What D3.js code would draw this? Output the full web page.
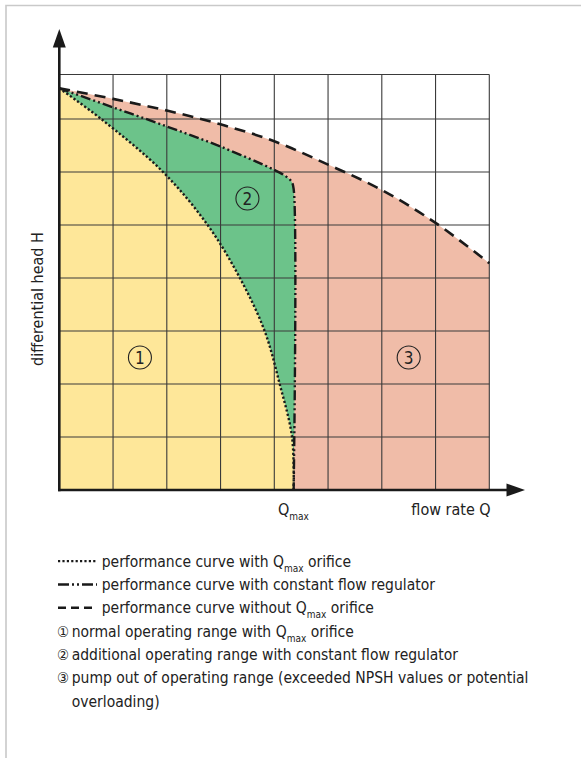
<!DOCTYPE html>
<html>
<head>
<meta charset="utf-8">
<script src="https://cdn.jsdelivr.net/npm/d3@7"></script>
<style>
  body { margin: 0; background: #fff; }
  svg text { font-family: "Liberation Sans Narrow", "DejaVu Sans Condensed", "Roboto", sans-serif; fill: #222; }
</style>
</head>
<body>
<svg width="581" height="758"></svg>
<script>
// grid ticks (flow rate Q / differential head H, arbitrary units)
const qTicks = [0, 1, 2, 3, 4, 5, 6, 7, 8];
const hTicks = [0, 1, 2, 3, 4, 5, 6, 7, 7.84];

// performance curve without Qmax orifice (dashed)
const qFree = [0, 1, 2, 3, 4, 5, 6, 7, 8];
const hFree = [7.58, 7.38, 7.16, 6.9, 6.58, 6.14, 5.66, 5.04, 4.28];

// performance curve with constant flow regulator (dash-dot)
const qReg = [0, 1, 2, 3, 4, 4.2, 4.32, 4.36, 4.36];
const hReg = [7.58, 7.22, 6.86, 6.48, 6.04, 5.93, 5.82, 5.68, 0];

// performance curve with Qmax orifice (dotted)
const qOrf = [0, 0.78, 1.93, 2.76, 3.36, 3.82, 4.1, 4.33, 4.36];
const hOrf = [7.58, 7, 6, 5, 4, 3, 2, 1, 0];

// range markers
const zoneNames = ['1', '2', '3'];
const zoneQ = [1.5, 3.5, 6.5];
const zoneH = [2.5, 5.5, 2.5];

const legendLines = [
  ['dot', 'performance curve with ', 'Q', 'max', ' orifice'],
  ['dashdot', 'performance curve with constant flow regulator'],
  ['dash', 'performance curve without ', 'Q', 'max', ' orifice'],
  ['\u2460', 'normal operating range with ', 'Q', 'max', ' orifice'],
  ['\u2461', 'additional operating range with constant flow regulator'],
  ['\u2462', 'pump out of operating range (exceeded NPSH values or potential'],
  ['', 'overloading)']
];

const svg = d3.select('svg');

const x = d3.scaleLinear().domain([0, 8]).range([59.3, 489.3]);
const y = d3.scaleLinear().domain([0, 7.84]).range([490, 74.5]);

const zip = (a, b) => a.map((v, i) => [v, b[i]]);
const line = d3.line().x(d => x(d[0])).y(d => y(d[1])).curve(d3.curveCatmullRom.alpha(0.5));

function area(pts) {
  const last = pts[pts.length - 1];
  return line(pts) + 'L' + x(last[0]) + ',' + y(0) + 'L' + x(0) + ',' + y(0) + 'Z';
}

// frame
svg.append('path').attr('d', 'M6,758V5.5H581').attr('fill', 'none')
  .attr('stroke', '#c9c9c9').attr('stroke-width', 1.6);

// fills
const freePts = zip(qFree, hFree), regPts = zip(qReg, hReg), orfPts = zip(qOrf, hOrf);
svg.append('path').attr('d', area(freePts)).attr('fill', '#f0bca8');
svg.append('path').attr('d', area(regPts)).attr('fill', '#6cc38a');
svg.append('path').attr('d', area(orfPts)).attr('fill', '#fee799');

// grid
const grid = svg.append('g').attr('stroke', '#3a3a3a').attr('stroke-width', 1.1);
grid.selectAll('.v').data(qTicks).join('line')
  .attr('x1', d => x(d)).attr('x2', d => x(d)).attr('y1', y(0)).attr('y2', y(7.84));
grid.selectAll('.h').data(hTicks).join('line')
  .attr('x1', x(0)).attr('x2', x(8)).attr('y1', d => y(d)).attr('y2', d => y(d));

// curves
const curves = svg.append('g').attr('fill', 'none').attr('stroke', '#1a1a1a');
curves.append('path').attr('d', line(freePts)).attr('stroke-width', 2.6).attr('stroke-dasharray', '11 7');
curves.append('path').attr('d', line(regPts)).attr('stroke-width', 2.4).attr('stroke-dasharray', '10 3 2 3 2 3');
curves.append('path').attr('d', line(orfPts)).attr('stroke-width', 2.4).attr('stroke-dasharray', '2.2 2.2');

// axes with arrows
const ax = svg.append('g');
ax.append('line').attr('x1', x(0)).attr('x2', x(0)).attr('y1', y(0) + 1.2).attr('y2', 44)
  .attr('stroke', '#1a1a1a').attr('stroke-width', 2.6);
ax.append('line').attr('x1', x(0) - 1.2).attr('x2', 510).attr('y1', y(0)).attr('y2', y(0))
  .attr('stroke', '#1a1a1a').attr('stroke-width', 2.6);
ax.append('path').attr('d', `M${x(0)},29 L${x(0) + 6.5},47.5 L${x(0) - 6.5},47.5 Z`).attr('fill', '#1a1a1a');
ax.append('path').attr('d', `M525,${y(0)} L506.5,${y(0) - 6.5} L506.5,${y(0) + 6.5} Z`).attr('fill', '#1a1a1a');

// zone markers
const zones = svg.append('g');
zoneNames.forEach((n, i) => {
  zones.append('circle').attr('cx', x(zoneQ[i])).attr('cy', y(zoneH[i])).attr('r', 11.5)
    .attr('fill', 'none').attr('stroke', '#222').attr('stroke-width', 1.1);
  zones.append('text').attr('x', x(zoneQ[i])).attr('y', y(zoneH[i]) + 6)
    .attr('text-anchor', 'middle').attr('font-size', 17).text(n);
});

// axis labels
svg.append('text').attr('transform', 'translate(43,299) rotate(-90)')
  .attr('text-anchor', 'middle').attr('font-size', 16).text('differential head H');
svg.append('text').attr('x', 490.7).attr('y', 515).attr('text-anchor', 'end')
  .attr('font-size', 16).text('flow rate Q');
const qm = svg.append('text').attr('x', 278).attr('y', 515).attr('font-size', 16);
qm.append('tspan').text('Q');
qm.append('tspan').attr('dy', 5).attr('font-size', 10).text('max');

// legend
const lg = svg.append('g');
const lgStyle = { dot: '2.2 2.2', dashdot: '11 3 2 3 2 3', dash: '8 5' };
legendLines.forEach((row, i) => {
  const by = 566.7 + i * 23.3;
  const key = row[0];
  let tx = 101.7;
  if (lgStyle[key]) {
    lg.append('line').attr('x1', 58).attr('x2', 97).attr('y1', by - 5.5).attr('y2', by - 5.5)
      .attr('stroke', '#1a1a1a').attr('stroke-width', key === 'dot' ? 2.2 : 2.6)
      .attr('stroke-dasharray', lgStyle[key]);
  } else {
    tx = 71.7;
    if (key) lg.append('text').attr('x', 57).attr('y', by).attr('font-size', 15).text(key);
  }
  const t = lg.append('text').attr('x', tx).attr('y', by).attr('font-size', 15.5);
  t.append('tspan').text(row[1]);
  if (row.length > 2) {
    t.append('tspan').text(row[2]);
    t.append('tspan').attr('dy', 5).attr('font-size', 10).text(row[3]);
    t.append('tspan').attr('dy', -5).text(row[4]);
  }
});
</script>
</body>
</html>
